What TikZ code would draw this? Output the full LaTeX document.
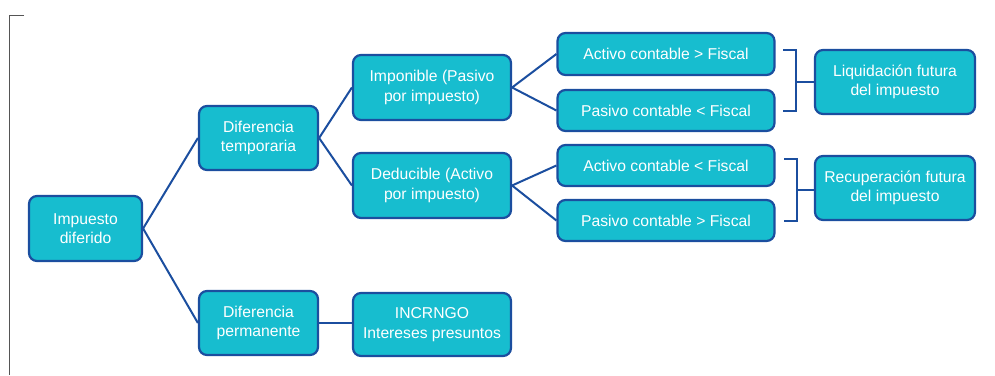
\documentclass[tikz,border=0pt]{standalone}
\usepackage{fontspec}
\setmainfont{Liberation Sans}
\definecolor{boxfill}{HTML}{17BDCF}
\definecolor{boxline}{HTML}{1B4E9F}
\definecolor{framegray}{HTML}{555555}
\begin{document}
\begin{tikzpicture}[x=1pt,y=-1pt,
  nbox/.style={draw=boxline,line width=2.2pt,fill=boxfill,rounded corners=8pt,
    text=white,align=center,inner sep=0pt,
    font=\fontsize{15.7}{19.5}\selectfont},
  conn/.style={draw=boxline,line width=2pt}]
\useasboundingbox (0,0) rectangle (995,375);
\draw[framegray,line width=1pt] (24,15) -- (9,15) -- (9,375);
% nodes
\node[nbox,minimum width=113,minimum height=65] (imp) at (85.5,228.5) {Impuesto\\diferido};
\node[nbox,minimum width=119,minimum height=64] (dtemp) at (258.5,138) {Diferencia\\temporaria};
\node[nbox,minimum width=119,minimum height=64] (dperm) at (258.5,323) {Diferencia\\permanente};
\node[nbox,minimum width=158,minimum height=65] (impo) at (432,87.5) {Imponible (Pasivo\\por impuesto)};
\node[nbox,minimum width=158,minimum height=65] (dedu) at (432,185.5) {Deducible (Activo\\por impuesto)};
\node[nbox,minimum width=158,minimum height=63] (incr) at (432,324.5) {INCRNGO\\Intereses presuntos};
\node[nbox,minimum width=217,minimum height=42] (a1) at (666,54) {Activo contable > Fiscal};
\node[nbox,minimum width=217,minimum height=41] (p1) at (666,110.5) {Pasivo contable < Fiscal};
\node[nbox,minimum width=217,minimum height=41] (a2) at (666,165.5) {Activo contable < Fiscal};
\node[nbox,minimum width=217,minimum height=41] (p2) at (666,220.5) {Pasivo contable > Fiscal};
\node[nbox,minimum width=160,minimum height=64] (liq) at (895,82) {Liquidación futura\\del impuesto};
\node[nbox,minimum width=160,minimum height=64] (rec) at (895,188) {Recuperación futura\\del impuesto};
% connectors
\draw[conn] (imp.east) -- (dtemp.west);
\draw[conn] (imp.east) -- (dperm.west);
\draw[conn] (dtemp.east) -- (impo.west);
\draw[conn] (dtemp.east) -- (dedu.west);
\draw[conn] (dperm.east) -- (incr.west |- dperm.east);
\draw[conn] (impo.east) -- (a1.west);
\draw[conn] (impo.east) -- (p1.west);
\draw[conn] (dedu.east) -- (a2.west);
\draw[conn] (dedu.east) -- (p2.west);
% brackets
\coordinate (b1t) at (783,50);
\coordinate (b1b) at (783,111);
\coordinate (b1m) at (796,82);
\draw[conn] (b1t) -- (796,50) -- (796,111) -- (b1b);
\draw[conn] (b1m) -- (liq.west);
\coordinate (b2t) at (784,159);
\coordinate (b2b) at (784,221);
\coordinate (b2m) at (797,190);
\draw[conn] (b2t) -- (797,159) -- (797,221) -- (b2b);
\draw[conn] (b2m) -- (rec.west |- b2m);
\end{tikzpicture}
\end{document}
